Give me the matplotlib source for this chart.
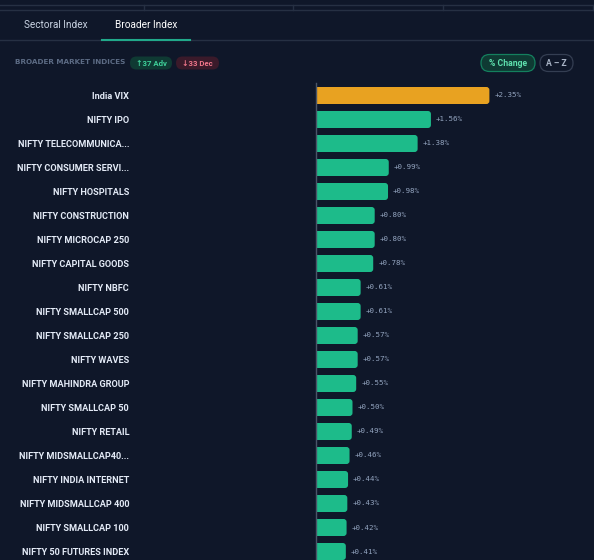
import matplotlib.pyplot as plt
from matplotlib.patches import FancyBboxPatch

# data
names = [
    "India VIX", "NIFTY IPO", "NIFTY TELECOMMUNICA...", "NIFTY CONSUMER SERVI...",
    "NIFTY HOSPITALS", "NIFTY CONSTRUCTION", "NIFTY MICROCAP 250",
    "NIFTY CAPITAL GOODS", "NIFTY NBFC", "NIFTY SMALLCAP 500",
    "NIFTY SMALLCAP 250", "NIFTY WAVES", "NIFTY MAHINDRA GROUP",
    "NIFTY SMALLCAP 50", "NIFTY RETAIL", "NIFTY MIDSMALLCAP40...",
    "NIFTY INDIA INTERNET", "NIFTY MIDSMALLCAP 400", "NIFTY SMALLCAP 100",
    "NIFTY 50 FUTURES INDEX",
]
changes = [2.35, 1.56, 1.38, 0.99, 0.98, 0.80, 0.80, 0.78, 0.61, 0.61,
           0.57, 0.57, 0.55, 0.50, 0.49, 0.46, 0.44, 0.43, 0.42, 0.41]
tabs = ["Sectoral Index", "Broader Index"]
adv, dec = 37, 33

BG = "#0f1729"
GREEN = "#1dbb8a"
ORANGE = "#e8a221"
LINE = "#263043"
W, H = 594, 560
FAM = ["Roboto", "DejaVu Sans"]

fig = plt.figure(figsize=(W / 100, H / 100), dpi=100, facecolor=BG)

# header drawn in pixel coordinates
hdr = fig.add_axes([0, 0, 1, 1], facecolor="none")
hdr.set_xlim(0, W)
hdr.set_ylim(H, 0)
hdr.axis("off")
for yy in (4.5, 9.5, 39.5):
    hdr.plot([0, W], [yy, yy], color=LINE, lw=1)
for xx in (144, 293, 443, 593):
    hdr.plot([xx, xx], [4.5, 9.5], color=LINE, lw=1)
hdr.plot([102, 190], [39.5, 39.5], color="#21a98a", lw=1.5)

hdr.text(56, 25.5, tabs[0], color="#c9d3e3", fontsize=7.2, ha="center", va="center", family=FAM)
hdr.text(146, 25.5, tabs[1], color="#ffffff", fontsize=7.2, ha="center", va="center", family=FAM)
hdr.text(15, 62.5, "BROADER MARKET INDICES", color="#5c6b84", fontsize=5.2,
         ha="left", va="center", family="DejaVu Sans", fontweight="bold")


def pill(x0, x1, y0, y1, face, edge, text, tcolor, fs=5.6):
    r = (y1 - y0) / 2
    hdr.add_patch(FancyBboxPatch((x0, y0), x1 - x0, y1 - y0,
                                 boxstyle=f"round,pad=0,rounding_size={r}",
                                 fc=face, ec=edge, lw=0.9))
    hdr.text((x0 + x1) / 2, (y0 + y1) / 2 + 0.3, text, color=tcolor, fontsize=fs,
             ha="center", va="center", family=FAM, fontweight="bold")


pill(130, 172, 56.5, 69.5, "#0f3a33", "none", f"↑{adv} Adv", "#3fd19a")
pill(176, 219, 56.5, 69.5, "#3a1a2a", "none", f"↓{dec} Dec", "#f0768b")
pill(481, 535, 54.5, 71.5, "#0f3a33", "#14805e", "% Change", "#5ee0ad", fs=6.2)
pill(540, 573, 54.5, 71.5, BG, "#343e52", "A – Z", "#a9b4c6", fs=6.2)

# bar chart area
ax_l, ax_r, ax_t, ax_b = 315.5, 594, 83, 560
ax = fig.add_axes([ax_l / W, 1 - ax_b / H, (ax_r - ax_l) / W, (ax_b - ax_t) / H],
                  facecolor="none")
xper = 74.0  # pixels per 1%
ax.set_xlim(0, (ax_r - ax_l) / xper)
ax.set_ylim((ax_b - 95.5) / 24, (ax_t - 95.5) / 24)

r = 3.0 / xper
hh = 17 / 24
for i, v in enumerate(changes):
    col = ORANGE if i == 0 else GREEN
    ax.add_patch(FancyBboxPatch((-r, i - hh / 2), v + r, hh,
                                boxstyle=f"round,pad=0,rounding_size={r}",
                                mutation_aspect=xper / 24, fc=col, ec="none"))
    ax.text(v + 5 / xper, i, f"+{v:.2f}%", color="#93a4bf", fontsize=5.4,
            va="center", ha="left", family="DejaVu Sans Mono")

ax.set_yticks(range(len(names)))
ax.set_yticklabels(names, color="#e3eaf6", fontsize=6.6, family=FAM,
                   fontweight="bold")
ax.tick_params(axis="y", length=0, pad=(ax_l - 129) * 0.72)
ax.set_xticks([])
for s in ("top", "right", "bottom"):
    ax.spines[s].set_visible(False)
ax.spines["left"].set_color("#4a5568")
ax.spines["left"].set_linewidth(1)

fig.savefig("out.png", dpi=100, facecolor=BG)
